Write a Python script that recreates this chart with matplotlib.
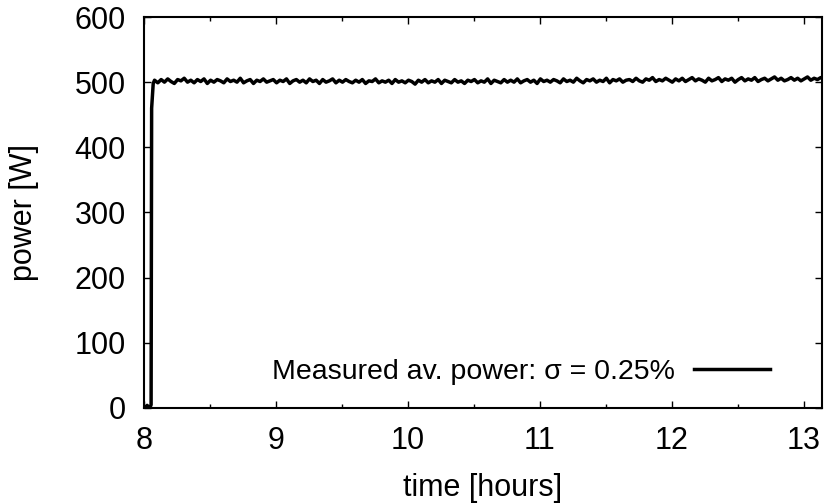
import matplotlib
matplotlib.use("Agg")
import matplotlib.pyplot as plt
from matplotlib.ticker import MultipleLocator
import numpy as np

plt.rcParams['font.family'] = ['Liberation Sans', 'DejaVu Sans']

# switch-on ramp (hours, W)
ramp_time = [8.0, 8.012, 8.024, 8.036, 8.048, 8.054, 8.058, 8.07]
ramp_power = [3, 0, 4, 1, 2, 5, 460, 498]

# plateau, sampled every 0.025 h from 8.08 h
plateau_start = 8.08
plateau_step = 0.025
plateau_power = [
    503, 499, 504, 500, 505, 501, 498, 504, 502, 506, 500, 503,
    499, 504, 501, 505, 498, 503, 500, 504, 502, 499, 505, 501,
    503, 500, 506, 499, 502, 504, 498, 503, 501, 505, 500, 502,
    504, 499, 503, 501, 505, 498, 502, 504, 500, 503, 499, 505,
    501, 503, 498, 504, 500, 502, 505, 499, 503, 500, 504, 501,
    499, 503, 500, 504, 498, 502, 501, 505, 499, 502, 500, 503,
    498, 504, 500, 502, 499, 503, 501, 497, 503, 500, 504, 499,
    502, 500, 504, 498, 503, 501, 499, 504, 500, 502, 498, 503,
    501, 504, 499, 502, 500, 505, 498, 503, 501, 499, 504, 500,
    503, 500, 505, 499, 502, 504, 500, 503, 498, 505, 501, 503,
    500, 504, 502, 499, 505, 501, 503, 500, 506, 502, 499, 504,
    502, 505, 500, 503, 501, 506, 499, 504, 502, 505, 500, 503,
    504, 501, 506, 502, 500, 505, 503, 507, 501, 504, 502, 506,
    503, 500, 505, 502, 506, 501, 504, 507, 502, 505, 503, 500,
    506, 502, 504, 507, 501, 505, 503, 506, 500, 504, 507, 502,
    505, 503, 507, 501, 504, 506, 502, 505, 508, 503, 506, 502,
    504, 507, 503, 506, 502, 505, 508, 503, 506, 504, 507, 505,
]

legend_label = 'Measured av. power: σ = 0.25%'

plateau_time = plateau_start + plateau_step * np.arange(len(plateau_power))
time = np.concatenate([ramp_time, plateau_time])
power = np.concatenate([ramp_power, plateau_power])

fig = plt.figure(figsize=(8.27, 5.03), dpi=100)
ax = fig.add_axes([0.1741, 0.1889, 0.8199, 0.7773])

ax.plot(time, power, color='black', lw=2.5, label=legend_label)

ax.set_xlim(8, 13.14)
ax.set_ylim(0, 600)
ax.xaxis.set_major_locator(MultipleLocator(1))
ax.xaxis.set_minor_locator(MultipleLocator(0.5))
ax.yaxis.set_major_locator(MultipleLocator(100))

ax.tick_params(which='both', direction='in', top=True, right=True, width=1.0,
               labelsize=22)
ax.tick_params(which='major', length=5)
ax.tick_params(which='minor', length=3)
ax.tick_params(axis='y', pad=13)
ax.tick_params(axis='x', pad=13)
for s in ax.spines.values():
    s.set_linewidth(1.5)

ax.set_xlabel('time [hours]', fontsize=22, labelpad=12)
ax.set_ylabel('power [W]', fontsize=22, labelpad=26)

ax.legend(loc='center right', bbox_to_anchor=(0.923, 0.092), frameon=False,
          markerfirst=False, fontsize=20.5, handlelength=2.65, handletextpad=0.7,
          borderpad=0, borderaxespad=0)

fig.savefig('out.png', dpi=100)
